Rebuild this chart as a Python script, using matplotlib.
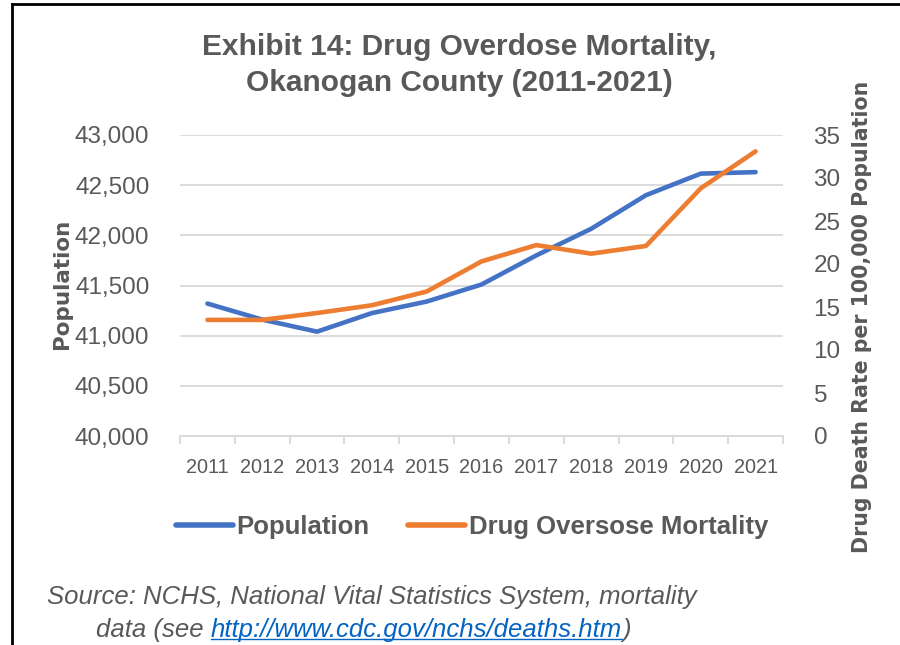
import matplotlib
matplotlib.use("Agg")
import matplotlib.pyplot as plt
from matplotlib.lines import Line2D
from matplotlib.ticker import FuncFormatter, MultipleLocator

# data
years = ["2011", "2012", "2013", "2014", "2015", "2016",
         "2017", "2018", "2019", "2020", "2021"]
population = [41320, 41160, 41040, 41225, 41340, 41510,
              41800, 42065, 42400, 42615, 42630]
overdose_rate = [13.5, 13.5, 14.3, 15.2, 16.8, 20.3,
                 22.2, 21.2, 22.1, 28.8, 33.1]

BLUE = "#4472C4"
ORANGE = "#ED7D31"
GREY = "#595959"
SANS = "Liberation Sans"
W, H = 900, 645

fig = plt.figure(figsize=(W / 100, H / 100), dpi=100)


def px(x0, y0, x1, y1):
    # pixel box -> figure fraction rect
    return [x0 / W, 1 - y1 / H, (x1 - x0) / W, (y1 - y0) / H]


ax = fig.add_axes(px(180, 135, 783, 436))
ax2 = ax.twinx()

x = list(range(len(years)))
ax.plot(x, population, color=BLUE, lw=3.3, solid_capstyle="round", zorder=3)
ax2.plot(x, overdose_rate, color=ORANGE, lw=3.3, solid_capstyle="round", zorder=3)

ax.set_xlim(-0.5, len(years) - 0.5)
ax.set_ylim(40000, 43000)
ax2.set_ylim(0, 35)
ax.yaxis.set_major_locator(MultipleLocator(500))
ax2.yaxis.set_major_locator(MultipleLocator(5))
ax.yaxis.set_major_formatter(FuncFormatter(lambda v, p: f"{int(v):,}"))

ax.grid(axis="y", color="#d9d9d9", lw=1.3)
ax.set_axisbelow(True)
for a in (ax, ax2):
    for s in a.spines.values():
        s.set_visible(False)
ax.spines["bottom"].set_visible(True)
ax.spines["bottom"].set_color("#d9d9d9")
ax.spines["bottom"].set_linewidth(1.3)

ax.set_xticks(x)
ax.set_xticklabels(years)
ax.set_xticks([i - 0.5 for i in range(len(years) + 1)], minor=True)
ax.tick_params(axis="x", which="major", length=0, pad=16,
               labelsize=14.3, labelcolor=GREY)
ax.tick_params(axis="x", which="minor", length=6, color="#d9d9d9", width=1.3)
ax.tick_params(axis="y", length=0, pad=22, labelsize=17.5, labelcolor=GREY)
ax2.tick_params(axis="y", length=0, pad=22, labelsize=17.5, labelcolor=GREY)
for lab in ax.get_xticklabels() + ax.get_yticklabels() + ax2.get_yticklabels():
    lab.set_family(SANS)

# axis titles
fig.text(62 / W, 1 - 284 / H, "Population", rotation=90, ha="center",
         va="center", fontsize=15.5, fontweight="bold", color=GREY)
fig.text(862 / W, 1 - 317 / H, "Drug Death Rate per 100,000 Population",
         rotation=90, ha="center", va="center", fontsize=14.8,
         fontweight="bold", color=GREY)

# title
fig.text(459 / W, 1 - 47 / H, "Exhibit 14: Drug Overdose Mortality,",
         ha="center", va="center", fontsize=21.5, fontweight="bold",
         color=GREY, family=SANS)
fig.text(459 / W, 1 - 83 / H, "Okanogan County (2011-2021)",
         ha="center", va="center", fontsize=21.5, fontweight="bold",
         color=GREY, family=SANS)

# legend
handles = [Line2D([], [], color=BLUE, lw=4, solid_capstyle="round"),
           Line2D([], [], color=ORANGE, lw=4, solid_capstyle="round")]
leg = fig.legend(handles, ["Population", "Drug Oversose Mortality"],
                 loc="center", bbox_to_anchor=(472 / W, 1 - 527 / H),
                 ncol=2, frameon=False, handlelength=2.2, handletextpad=0.15,
                 columnspacing=1.5,
                 prop={"family": SANS, "weight": "bold", "size": 18.5})
for t in leg.get_texts():
    t.set_color(GREY)

# source note
src_kw = dict(fontsize=18.5, style="italic", color=GREY, family=SANS,
              va="baseline")
fig.text(47 / W, 1 - 604 / H,
         "Source: NCHS, National Vital Statistics System, mortality", **src_kw)
t1 = fig.text(96 / W, 1 - 637 / H, "data (see ", **src_kw)
fig.canvas.draw()
r = fig.canvas.get_renderer()
bb = t1.get_window_extent(r)
link_kw = dict(src_kw)
link_kw["color"] = "#0563C1"
t2 = fig.text(bb.x1 / W, 1 - 637 / H, "http://www.cdc.gov/nchs/deaths.htm",
              **link_kw)
bb2 = t2.get_window_extent(r)
fig.add_artist(Line2D([bb2.x0 / W, bb2.x1 / W],
                      [(H - 639) / H, (H - 639) / H],
                      color="#0563C1", lw=1))
fig.text(bb2.x1 / W, 1 - 637 / H, ")", **src_kw)

# outer frame (left and top edges visible)
fig.add_artist(Line2D([12 / W, 12 / W], [0, 1 - 4 / H], color="black", lw=2))
fig.add_artist(Line2D([12 / W, 1], [1 - 4 / H, 1 - 4 / H], color="black", lw=2))

fig.savefig("out.png", dpi=100)
